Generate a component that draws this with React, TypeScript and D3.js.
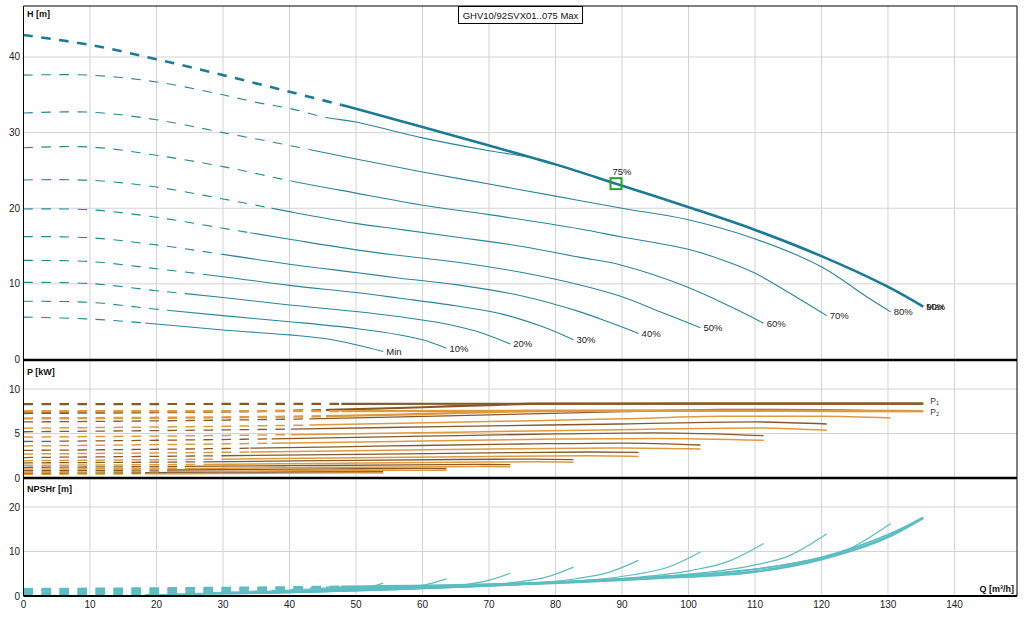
import React from 'react';
import * as d3 from 'd3';

const speedLabels = ['Min', '10%', '20%', '30%', '40%', '50%', '60%', '70%', '80%', '90%', 'Max'];
const solidFromQ = [18.3, 21.6, 24.3, 27.1, 29.8, 34.1, 37.3, 40.2, 43.0, 45.5, 47.8];

const xTicks = [0, 10, 20, 30, 40, 50, 60, 70, 80, 90, 100, 110, 120, 130, 140];
const hTicks = [0, 10, 20, 30, 40];
const pTicks = [0, 5, 10];
const nTicks = [0, 10, 20];

// Head H [m]
const headQ: number[][] = [
  [0, 10, 20, 30, 40, 45, 50, 54.1],
  [0, 10, 20, 30, 40, 50, 56.6, 60, 63.6],
  [0, 10, 20, 30, 40, 50, 56.6, 63, 68, 73.2],
  [0, 10, 20, 30, 40, 50, 56.6, 65, 72, 78, 82.7],
  [0, 10, 20, 30, 40, 50, 56.6, 65, 75, 83.7, 88, 92.5],
  [0, 10, 20, 30, 40, 50, 56.6, 65, 75, 83.7, 89.8, 96.2, 101.8],
  [0, 10, 20, 30, 40, 50, 56.6, 65, 75, 83.7, 89.8, 99.8, 106.3, 111.3],
  [0, 10, 20, 30, 40, 50, 60, 70, 83.7, 90, 99.8, 105, 109.8, 114.8, 120.8],
  [0, 10, 20, 30, 40, 50, 60, 70, 80, 90, 99.8, 109.8, 119.9, 126.8, 130.4],
  [0, 10, 20, 30, 35, 40, 45.5, 50, 60, 70, 76, 80, 89.1, 99.8, 109.8, 119.9, 129.8, 135.3],
  [0, 10, 20, 30, 40, 47.6, 50, 60, 70, 80, 89.1, 99.8, 109.8, 119.9, 129.8, 135.3],
];
const headH: number[][] = [
  [5.6, 5.35, 4.7, 3.9, 3.25, 2.8, 1.95, 1.05],
  [7.7, 7.55, 6.65, 5.8, 5.0, 4.1, 3.25, 2.6, 1.5],
  [10.2, 10.05, 9.1, 8.2, 7.2, 6.35, 5.65, 4.8, 3.76, 2.05],
  [13.1, 12.95, 12.0, 10.95, 9.8, 8.85, 8.1, 7.1, 6.0, 4.35, 2.6],
  [16.25, 16.1, 15.15, 13.9, 12.6, 11.5, 10.75, 9.9, 8.4, 6.3, 4.95, 3.45],
  [19.9, 19.8, 18.8, 17.35, 15.9, 14.5, 13.75, 12.9, 11.5, 9.85, 8.35, 6.15, 4.2],
  [23.74, 23.7, 22.8, 21.23, 19.55, 18.0, 17.2, 16.2, 14.95, 13.5, 12.5, 9.6, 7.0, 4.8],
  [28.0, 28.1, 27.0, 25.5, 23.65, 22.0, 20.4, 19.15, 17.26, 16.2, 14.6, 13.2, 11.5, 9.0, 5.8],
  [32.6, 32.7, 31.7, 30.0, 28.3, 26.5, 24.8, 23.2, 21.6, 20.0, 18.5, 16.0, 12.3, 8.3, 6.3],
  [37.6, 37.6, 36.7, 35.0, 34.0, 33.2, 32.0, 31.4, 29.3, 27.6, 26.75, 25.8, 23.25, 20.2, 17.2, 13.7, 9.7, 7.0],
  [42.9, 41.6, 39.7, 37.6, 35.4, 33.7, 33.15, 30.75, 28.3, 25.8, 23.25, 20.2, 17.2, 13.7, 9.7, 7.0],
];

// Power P1 / P2 [kW]
const powerQ: number[][] = [
  [0, 18.3, 30, 42, 50, 54.1],
  [0, 21.6, 35, 50, 59, 63.6],
  [0, 24.3, 40, 58, 68, 73.2],
  [0, 27.1, 45, 65, 77, 82.7],
  [0, 29.8, 50, 70, 85, 92.5],
  [0, 34.1, 55, 75, 90, 101.8],
  [0, 37.3, 60, 80, 95, 111.3],
  [0, 40.2, 65, 89.7, 110, 120.8],
  [0, 43, 70, 90, 105, 120, 130.4],
  [0, 46, 60, 70, 76, 100, 135.3],
  [0, 48, 80, 110, 135.3],
];
const powerP1: number[][] = [
  [0.55, 0.6, 0.65, 0.7, 0.73, 0.72],
  [0.82, 0.9, 0.96, 1.04, 1.08, 1.07],
  [1.2, 1.3, 1.38, 1.48, 1.52, 1.5],
  [1.7, 1.82, 1.95, 2.08, 2.12, 2.06],
  [2.3, 2.5, 2.65, 2.82, 2.92, 2.88],
  [3.1, 3.35, 3.6, 3.82, 3.93, 3.71],
  [4.1, 4.4, 4.7, 4.95, 5.08, 4.76],
  [5.2, 5.5, 5.8, 6.07, 6.3, 6.07],
  [6.3, 6.65, 7.1, 7.45, 7.7, 7.68, 7.5],
  [7.3, 7.65, 7.95, 8.2, 8.33, 8.35, 8.36],
  [8.3, 8.33, 8.35, 8.36, 8.36],
];
const powerP2: number[][] = [
  [0.42, 0.47, 0.51, 0.55, 0.58, 0.57],
  [0.66, 0.72, 0.78, 0.85, 0.88, 0.87],
  [1.0, 1.08, 1.15, 1.24, 1.28, 1.26],
  [1.42, 1.53, 1.64, 1.76, 1.82, 1.78],
  [1.95, 2.12, 2.27, 2.42, 2.5, 2.43],
  [2.7, 2.92, 3.12, 3.3, 3.37, 3.26],
  [3.6, 3.9, 4.15, 4.38, 4.45, 4.23],
  [4.6, 4.87, 5.15, 5.43, 5.62, 5.36],
  [5.6, 5.95, 6.35, 6.65, 6.95, 6.95, 6.75],
  [6.7, 6.95, 7.2, 7.4, 7.5, 7.55, 7.52],
  [7.5, 7.52, 7.55, 7.55, 7.52],
];

// NPSHr [m]
const npshQ: number[][] = [
  [0, 18.3, 27, 37.9, 43.3, 48.7, 51.4, 54.1],
  [0, 21.6, 31.8, 44.5, 50.9, 57.2, 60.4, 63.6],
  [0, 24.3, 36.6, 51.2, 58.6, 65.9, 69.5, 73.2],
  [0, 27.1, 41.4, 57.9, 66.2, 74.4, 78.6, 82.7],
  [0, 29.8, 46.3, 64.8, 74, 83.3, 87.9, 92.5],
  [0, 34.1, 51, 71.3, 81.5, 91.7, 96.8, 101.8],
  [0, 37.3, 55.7, 78, 89.1, 100.3, 105.8, 111.3],
  [0, 40.2, 60.6, 84.8, 97, 109.1, 115.1, 120.8],
  [0, 43, 65.3, 91.4, 104.4, 117.5, 124, 130.4],
  [0, 45.5, 70, 95, 110, 120, 130, 135.3],
  [0, 47.8, 70, 95, 110, 120, 130, 135.3],
];
const npshV: number[][] = [
  [0.23, 0.3, 0.4, 0.66, 0.91, 1.36, 1.83, 2.9],
  [0.31, 0.42, 0.55, 0.91, 1.26, 1.88, 2.52, 3.85],
  [0.41, 0.55, 0.72, 1.2, 1.66, 2.48, 3.33, 5.1],
  [0.52, 0.71, 0.92, 1.54, 2.12, 3.17, 4.24, 6.5],
  [0.65, 0.88, 1.15, 1.91, 2.64, 3.93, 5.27, 8.0],
  [0.79, 1.07, 1.39, 2.32, 3.2, 4.78, 6.4, 9.9],
  [0.94, 1.28, 1.67, 2.78, 3.83, 5.72, 7.66, 11.8],
  [1.11, 1.5, 1.96, 3.27, 4.51, 6.73, 9.02, 14.0],
  [1.29, 1.75, 2.28, 3.8, 5.24, 7.83, 10.5, 16.3],
  [1.4, 1.95, 2.6, 4.3, 6.0, 8.7, 13.8, 17.6],
  [1.5, 2.05, 2.55, 4.05, 5.5, 8.3, 13.3, 17.6],
];

const dutyPoint = { q: 89.1, h: 23.25, label: '75%' };
const title = 'GHV10/92SVX01..075 Max';

const FONT = '"Liberation Sans", Arial, Helvetica, sans-serif';

export default function App() {
  const x = d3.scaleLinear().domain([0, 149.4]).range([23.5, 1017]);
  const yH = d3.scaleLinear().domain([0, 46.74]).range([359.5, 6]);
  const yP = d3.scaleLinear().domain([0, 13.26]).range([478, 360]);
  const yN = d3.scaleLinear().domain([0, 26.52]).range([596, 478]);
  const x0 = x(0), x1 = x(149.4);

  const gen = (ys: d3.ScaleLinear<number, number>, c: d3.CurveFactory) =>
    d3.line<[number, number]>().x(d => x(d[0])).y(d => ys(d[1])).curve(c);
  const zip = (a: number[], b: number[]) => a.map((v, i) => [v, b[i]] as [number, number]);

  const curve = (key: string, d: string, i: number, color: string, width: number) => (
    <g key={key}>
      <path d={d} fill="none" stroke={color} strokeWidth={width} strokeDasharray="9.5 8.5" clipPath={`url(#dash-${i})`} />
      <path d={d} fill="none" stroke={color} strokeWidth={width} clipPath={`url(#solid-${i})`} />
    </g>
  );

  const lH = gen(yH, d3.curveCatmullRom.alpha(0.5));
  const lP = gen(yP, d3.curveMonotoneX);
  const lN = gen(yN, d3.curveMonotoneX);
  const last = speedLabels.length - 1;

  return (
    <svg width={1030} height={623} style={{ position: 'absolute', left: 0, top: 0, background: '#fff' }} fontFamily={FONT}>
      <defs>
        {solidFromQ.map((q, i) => (
          <React.Fragment key={i}>
            <clipPath id={`dash-${i}`}><rect x={0} y={0} width={x(q)} height={623} /></clipPath>
            <clipPath id={`solid-${i}`}><rect x={x(q)} y={0} width={1030 - x(q)} height={623} /></clipPath>
          </React.Fragment>
        ))}
      </defs>
      <rect x={0} y={0} width={1030} height={623} fill="#fff" />

      {/* grid */}
      <g stroke="#d3d3d3" strokeWidth={1}>
        {xTicks.filter(t => t > 0).map(t => (
          <line key={`gx${t}`} x1={x(t)} x2={x(t)} y1={6} y2={596} />
        ))}
        {hTicks.filter(t => t > 0).map(t => (
          <line key={`gh${t}`} x1={x0} x2={x1} y1={yH(t)} y2={yH(t)} />
        ))}
        {pTicks.filter(t => t > 0).map(t => (
          <line key={`gp${t}`} x1={x0} x2={x1} y1={yP(t)} y2={yP(t)} />
        ))}
        {nTicks.filter(t => t > 0).map(t => (
          <line key={`gn${t}`} x1={x0} x2={x1} y1={yN(t)} y2={yN(t)} />
        ))}
      </g>

      {/* NPSH */}
      {npshQ.map((q, i) =>
        curve(`n${i}`, lN(zip(q, npshV[i])) || '', i, '#5bbcc1', i === last ? 2.8 : i === last - 1 ? 1.6 : 1.2)
      )}

      {/* Power */}
      {powerQ.map((q, i) => (
        <g key={`p${i}`}>
          {curve(`p2${i}`, lP(zip(q, powerP2[i])) || '', i, '#e09a3e', i >= last - 1 ? 2.4 : 1.5)}
          {curve(`p1${i}`, lP(zip(q, powerP1[i])) || '', i, '#855a2a', i >= last - 1 ? 2.2 : 1.3)}
        </g>
      ))}

      {/* Head */}
      {headQ.map((q, i) =>
        curve(`h${i}`, lH(zip(q, headH[i])) || '', i, i === last ? '#1b7b95' : '#2a8599', i === last ? 2.6 : 1.1)
      )}

      {/* curve end labels */}
      <g fontSize={9.5} fill="#222">
        {headQ.map((q, i) => {
          const eq = q[q.length - 1];
          const eh = headH[i][headH[i].length - 1];
          return (
            <text key={`lab${i}`} x={x(eq) + 3} y={yH(eh) + 3.5}>{speedLabels[i]}</text>
          );
        })}
      </g>

      {/* duty point */}
      <rect x={x(dutyPoint.q) - 5.5} y={yH(dutyPoint.h) - 5.5} width={11} height={11} fill="none" stroke="#27a327" strokeWidth={2} />
      <text x={x(dutyPoint.q) - 3.5} y={yH(dutyPoint.h) - 9} fontSize={9.5} fill="#222">{dutyPoint.label}</text>

      {/* P1 / P2 labels */}
      <g fill="#333" fontSize={8.5}>
        <text x={x(135.3) + 7} y={yP(8.36) + 0.5}>P<tspan fontSize={5.5} dy={1}>1</tspan></text>
        <text x={x(135.3) + 7} y={yP(7.52) + 3.5}>P<tspan fontSize={5.5} dy={1}>2</tspan></text>
      </g>

      {/* frame */}
      <line x1={x0} x2={x1} y1={6} y2={6} stroke="#000" strokeWidth={1} />
      <line x1={x1} x2={x1} y1={6} y2={596} stroke="#000" strokeWidth={1} />
      <line x1={x0} x2={x0} y1={6} y2={596} stroke="#000" strokeWidth={1} />
      <line x1={x0} x2={x1} y1={360} y2={360} stroke="#000" strokeWidth={2.5} />
      <line x1={x0} x2={x1} y1={478} y2={478} stroke="#000" strokeWidth={2.5} />
      <line x1={x0} x2={x1} y1={596} y2={596} stroke="#000" strokeWidth={2} />

      {/* axis tick labels */}
      <g fontSize={10} fill="#222">
        {xTicks.map(t => (
          <text key={`tx${t}`} x={x(t)} y={607.5} textAnchor="middle">{t}</text>
        ))}
        {hTicks.map(t => (
          <text key={`th${t}`} x={20} y={yH(t) + 3.5} textAnchor="end">{t}</text>
        ))}
        {pTicks.map(t => (
          <text key={`tp${t}`} x={20} y={yP(t) + 3.5} textAnchor="end">{t}</text>
        ))}
        {nTicks.map(t => (
          <text key={`tn${t}`} x={20} y={yN(t) + 3.5} textAnchor="end">{t}</text>
        ))}
      </g>

      {/* axis titles */}
      <g fontSize={9} fontWeight="bold" fill="#111">
        <text x={27} y={17}>H [m]</text>
        <text x={27} y={374.5}>P [kW]</text>
        <text x={27} y={491.5}>NPSHr [m]</text>
        <text x={1014} y={592} textAnchor="end">Q [m³/h]</text>
      </g>

      {/* title box */}
      <rect x={458.5} y={6.5} width={124} height={17} fill="#fff" stroke="#000" strokeWidth={1} />
      <text x={520.5} y={18.5} textAnchor="middle" fontSize={9.5} fill="#111">{title}</text>
    </svg>
  );
}
